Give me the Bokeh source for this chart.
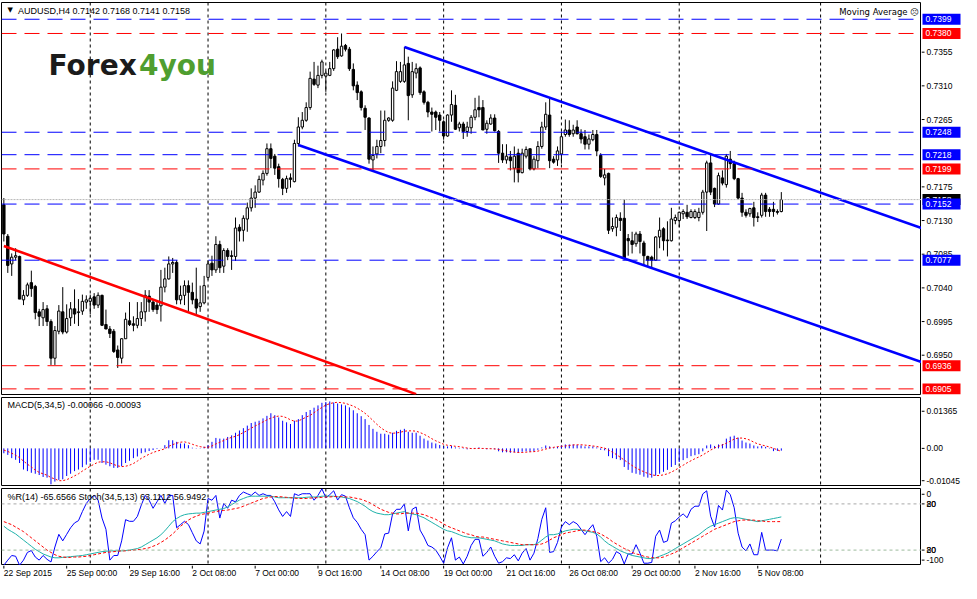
from bokeh.plotting import figure
from bokeh.models import Range1d, Span, Label, ColumnDataSource
from bokeh.layouts import column, row
from bokeh.core.properties import value
from bokeh.embed import file_html
from bokeh.resources import INLINE

# ---------------- data ----------------
open_ = [0.7151,0.7109,0.7072,0.7081,0.7082,0.7024,0.7030,0.7047,0.7042,0.7008,
         0.7000,0.7012,0.6995,0.6946,0.6982,0.7008,0.6981,0.7000,0.7012,0.7007,
         0.7009,0.7021,0.7022,0.7028,0.7017,0.7030,0.6991,0.6985,0.6982,0.6957,
         0.6946,0.6972,0.6996,0.6992,0.6990,0.6999,0.7008,0.7029,0.7021,0.7017,
         0.7016,0.7041,0.7052,0.7072,0.7074,0.7024,0.7030,0.7043,0.7034,0.7025,
         0.7015,0.7020,0.7054,0.7073,0.7064,0.7098,0.7069,0.7090,0.7083,0.7082,
         0.7121,0.7117,0.7132,0.7147,0.7160,0.7168,0.7184,0.7193,0.7226,0.7216,
         0.7202,0.7185,0.7173,0.7187,0.7182,0.7233,0.7255,0.7264,0.7281,0.7319,
         0.7311,0.7324,0.7323,0.7324,0.7333,0.7359,0.7350,0.7364,0.7359,0.7332,
         0.7311,0.7302,0.7280,0.7267,0.7211,0.7219,0.7229,0.7237,0.7264,0.7264,
         0.7304,0.7316,0.7316,0.7340,0.7298,0.7327,0.7334,0.7302,0.7288,0.7275,
         0.7275,0.7271,0.7262,0.7243,0.7271,0.7284,0.7254,0.7259,0.7249,0.7254,
         0.7268,0.7281,0.7281,0.7252,0.7259,0.7267,0.7249,0.7220,0.7211,0.7215,
         0.7200,0.7220,0.7194,0.7216,0.7226,0.7199,0.7210,0.7229,0.7255,0.7271,
         0.7212,0.7211,0.7219,0.7245,0.7251,0.7246,0.7255,0.7246,0.7242,0.7232,
         0.7238,0.7245,0.7217,0.7187,0.7193,0.7119,0.7121,0.7133,0.7133,0.7106,
         0.7103,0.7099,0.7112,0.7100,0.7082,0.7081,0.7077,0.7108,0.7119,0.7104,
         0.7103,0.7130,0.7130,0.7139,0.7141,0.7134,0.7134,0.7134,0.7141,0.7168,
         0.7207,0.7173,0.7152,0.7187,0.7178,0.7212,0.7206,0.7186,0.7160,0.7141,
         0.7139,0.7147,0.7135,0.7137,0.7164,0.7145,0.7145,0.7142,0.7142]
high_ = [0.7160,0.7112,0.7086,0.7093,0.7083,0.7037,0.7047,0.7063,0.7044,0.7012,
         0.7021,0.7017,0.6998,0.6989,0.7017,0.7041,0.7018,0.7021,0.7038,0.7025,
         0.7031,0.7030,0.7031,0.7033,0.7034,0.7031,0.7011,0.6989,0.6985,0.6963,
         0.6973,0.7007,0.7021,0.7002,0.7021,0.7021,0.7037,0.7037,0.7025,0.7021,
         0.7064,0.7067,0.7082,0.7080,0.7077,0.7043,0.7050,0.7050,0.7047,0.7067,
         0.7043,0.7056,0.7077,0.7083,0.7109,0.7103,0.7093,0.7093,0.7090,0.7134,
         0.7125,0.7137,0.7154,0.7173,0.7177,0.7190,0.7197,0.7233,0.7233,0.7219,
         0.7206,0.7187,0.7190,0.7193,0.7238,0.7268,0.7275,0.7288,0.7329,0.7342,
         0.7337,0.7345,0.7330,0.7342,0.7359,0.7375,0.7380,0.7366,0.7362,0.7340,
         0.7316,0.7304,0.7284,0.7268,0.7229,0.7238,0.7277,0.7277,0.7268,0.7316,
         0.7343,0.7342,0.7362,0.7349,0.7342,0.7340,0.7336,0.7304,0.7290,0.7281,
         0.7277,0.7275,0.7264,0.7272,0.7304,0.7298,0.7262,0.7262,0.7262,0.7271,
         0.7294,0.7297,0.7291,0.7264,0.7272,0.7272,0.7251,0.7232,0.7232,0.7223,
         0.7229,0.7226,0.7226,0.7229,0.7226,0.7216,0.7236,0.7262,0.7288,0.7294,
         0.7216,0.7229,0.7249,0.7265,0.7264,0.7258,0.7264,0.7252,0.7251,0.7245,
         0.7251,0.7251,0.7220,0.7199,0.7194,0.7134,0.7138,0.7141,0.7158,0.7112,
         0.7115,0.7115,0.7116,0.7103,0.7083,0.7083,0.7109,0.7134,0.7121,0.7129,
         0.7147,0.7138,0.7142,0.7145,0.7151,0.7145,0.7145,0.7147,0.7171,0.7210,
         0.7220,0.7174,0.7194,0.7197,0.7219,0.7223,0.7210,0.7187,0.7167,0.7145,
         0.7147,0.7155,0.7141,0.7167,0.7167,0.7148,0.7155,0.7145,0.7168]
low_ = [0.7102,0.7060,0.7056,0.7077,0.7025,0.7017,0.7028,0.7028,0.6998,0.6989,
        0.6989,0.6989,0.6937,0.6937,0.6978,0.6978,0.6979,0.6989,0.6992,0.6989,
        0.7004,0.7012,0.7005,0.7012,0.7013,0.6989,0.6985,0.6973,0.6953,0.6933,
        0.6939,0.6972,0.6989,0.6982,0.6986,0.6989,0.6995,0.7008,0.7008,0.7005,
        0.6995,0.7034,0.7051,0.7060,0.7018,0.7018,0.7017,0.7008,0.7018,0.7005,
        0.7008,0.7018,0.7051,0.7056,0.7060,0.7060,0.7060,0.7077,0.7064,0.7076,
        0.7102,0.7102,0.7115,0.7142,0.7147,0.7167,0.7177,0.7190,0.7200,0.7191,
        0.7174,0.7164,0.7167,0.7174,0.7181,0.7229,0.7252,0.7262,0.7278,0.7310,
        0.7307,0.7320,0.7302,0.7323,0.7330,0.7346,0.7349,0.7356,0.7330,0.7304,
        0.7291,0.7277,0.7251,0.7206,0.7197,0.7213,0.7220,0.7229,0.7262,0.7262,
        0.7303,0.7314,0.7314,0.7264,0.7294,0.7320,0.7298,0.7285,0.7268,0.7249,
        0.7251,0.7249,0.7238,0.7242,0.7262,0.7251,0.7249,0.7239,0.7242,0.7246,
        0.7264,0.7268,0.7251,0.7246,0.7258,0.7249,0.7207,0.7207,0.7206,0.7197,
        0.7181,0.7181,0.7193,0.7213,0.7197,0.7197,0.7200,0.7226,0.7251,0.7200,
        0.7206,0.7203,0.7206,0.7242,0.7242,0.7242,0.7245,0.7233,0.7225,0.7225,
        0.7236,0.7216,0.7187,0.7177,0.7112,0.7115,0.7109,0.7116,0.7077,0.7083,
        0.7086,0.7095,0.7086,0.7070,0.7069,0.7067,0.7076,0.7093,0.7090,0.7082,
        0.7102,0.7125,0.7121,0.7132,0.7132,0.7133,0.7132,0.7129,0.7138,0.7116,
        0.7164,0.7148,0.7151,0.7177,0.7174,0.7199,0.7184,0.7158,0.7135,0.7134,
        0.7135,0.7122,0.7128,0.7134,0.7135,0.7135,0.7135,0.7138,0.7141]
close_ = [0.7112,0.7070,0.7081,0.7083,0.7025,0.7030,0.7044,0.7039,0.7007,0.7002,
          0.7011,0.6995,0.6946,0.6983,0.7009,0.6981,0.6999,0.7012,0.7005,0.7008,
          0.7022,0.7024,0.7026,0.7017,0.7030,0.6990,0.6985,0.6979,0.6955,0.6947,
          0.6972,0.6998,0.6991,0.6990,0.6999,0.7008,0.7030,0.7021,0.7011,0.7011,
          0.7041,0.7052,0.7072,0.7074,0.7024,0.7030,0.7043,0.7034,0.7024,0.7013,
          0.7020,0.7043,0.7072,0.7064,0.7098,0.7067,0.7090,0.7082,0.7082,0.7120,
          0.7116,0.7133,0.7147,0.7160,0.7168,0.7185,0.7193,0.7226,0.7213,0.7200,
          0.7186,0.7173,0.7186,0.7185,0.7233,0.7255,0.7264,0.7281,0.7320,0.7312,
          0.7324,0.7342,0.7327,0.7333,0.7358,0.7349,0.7363,0.7359,0.7333,0.7310,
          0.7301,0.7281,0.7268,0.7212,0.7217,0.7229,0.7237,0.7264,0.7267,0.7307,
          0.7329,0.7329,0.7338,0.7297,0.7329,0.7333,0.7301,0.7288,0.7275,0.7272,
          0.7268,0.7264,0.7243,0.7271,0.7285,0.7252,0.7259,0.7249,0.7255,0.7268,
          0.7278,0.7278,0.7251,0.7260,0.7267,0.7250,0.7220,0.7211,0.7216,0.7210,
          0.7216,0.7194,0.7220,0.7225,0.7199,0.7212,0.7229,0.7255,0.7272,0.7210,
          0.7208,0.7223,0.7242,0.7251,0.7245,0.7251,0.7246,0.7239,0.7232,0.7239,
          0.7245,0.7223,0.7189,0.7191,0.7117,0.7122,0.7134,0.7130,0.7080,0.7103,
          0.7098,0.7112,0.7102,0.7083,0.7077,0.7077,0.7108,0.7117,0.7103,0.7103,
          0.7132,0.7134,0.7141,0.7142,0.7135,0.7142,0.7142,0.7141,0.7168,0.7207,
          0.7168,0.7152,0.7190,0.7180,0.7216,0.7206,0.7186,0.7160,0.7141,0.7137,
          0.7146,0.7134,0.7134,0.7164,0.7142,0.7142,0.7142,0.7141,0.7158]

# MACD(5,34,5) in units of 0.0001
macd_main = [-14.2,-19.0,-28.4,-33.2,-42.6,-61.6,-66.2,-71.0,-73.8,-77.5,
             -83.2,-85.2,-104.5,-96.6,-91.7,-90.0,-80.4,-73.8,-66.2,-61.6,
             -54.8,-47.4,-39.8,-33.2,-33.2,-42.6,-47.4,-52.0,-56.8,-56.8,
             -52.0,-42.6,-36.1,-28.4,-23.6,-14.2,-11.4,-7.7,-4.8,-2.0,
             -0.6,9.4,23.6,23.6,19.0,14.2,14.2,9.4,2.0,0.9,
             -0.9,4.8,9.4,19.0,30.4,28.4,28.4,33.2,37.8,45.4,
             52.0,58.8,66.2,73.8,77.5,80.4,87.2,94.6,102.2,96.6,
             90.0,80.4,75.8,71.0,80.4,85.2,96.6,105.9,111.6,118.4,
             125.0,132.6,134.9,136.5,133.5,130.6,127.8,125.0,119.3,110.8,
             102.2,93.7,85.2,68.2,56.8,48.3,42.6,42.6,39.8,45.4,
             51.1,54.0,56.8,48.3,45.4,45.4,36.9,28.4,22.7,17.0,
             14.2,9.9,5.7,5.7,7.1,2.8,1.4,-1.4,-2.8,-1.4,
             1.4,2.8,-1.4,-2.8,-1.4,-2.8,-8.5,-11.4,-11.4,-12.8,
             -11.4,-12.8,-9.9,-8.5,-9.9,-8.5,-4.3,2.8,8.5,5.7,
             2.8,4.3,8.5,11.4,11.4,11.4,9.9,8.5,5.7,5.7,
             5.7,2.8,-4.3,-5.7,-22.7,-28.4,-31.2,-34.1,-54.0,-62.5,
             -71.0,-73.8,-76.7,-82.4,-85.2,-85.2,-79.5,-73.8,-68.2,-62.5,
             -54.0,-48.3,-39.8,-34.1,-28.4,-22.7,-19.9,-17.0,-8.5,8.5,
             11.4,7.1,11.4,12.8,28.4,34.1,36.9,31.2,22.7,17.0,
             14.2,8.5,5.7,7.1,4.3,1.4,-8.0,-7.4,-6.6]
macd_signal = [-5,-9,-14,-20,-27,-37,-46,-54,-63,-70,
               -74,-78,-85,-89,-94,-94,-91,-86,-80,-74,
               -66,-59,-52,-46,-40,-39,-39,-42,-47,-51,
               -53,-52,-49,-44,-37,-29,-23,-17,-12,-8,
               -5,-1,6,11,15,18,19,16,12,8,
               5,3,3,7,13,18,23,28,32,35,
               40,46,52,59,65,71,77,83,88,92,
               94,93,89,83,79,80,85,91,96,104,
               112,119,126,130,133,134,133,131,127,123,
               117,110,102,92,81,70,60,52,46,44,
               45,47,50,51,51,50,46,41,35,28,
               22,17,12,9,8,6,5,3,1,-0.5,
               -0.5,-0.3,-0.2,-0.5,-1,-1.5,-3,-5,-7,-9,
               -11,-12,-12,-11,-10,-9.5,-8,-5,-2,1,
               3,5,6,7,8.5,10,10.5,10.5,9.5,8.5,
               7,5.5,3,1,-5,-11,-18,-26,-34,-42,
               -50,-57,-63,-68,-73,-77,-79,-79,-77,-74,
               -69,-63,-56,-49,-42,-36,-30,-25,-19,-12,
               -5,1,6,10,15,21,27,30,30,28,
               24,18,13,10,7,4,0,-4,-9.3]

# Williams %R(14)
wpr = [-99.6,-93,-87,-88,-99.6,-93,-83,-80.6,-89,-93,
       -87,-92,-95.4,-76,-59.5,-68,-59.5,-51,-44.7,-41.8,
       -30,-19.4,-13,-9,-15,-38.4,-53,-93,-87,-87,
       -68,-40.5,-42.6,-42.6,-36.3,-21.5,-9,-15.2,-25.7,-17.3,
       -9,-19.4,-9,-9,-51,-46.8,-42.6,-46.8,-57.4,-68,
       -72,-55.3,-13,-15.2,-9,-38.4,-19.4,-25.7,-15.2,-17.3,
       -9,-4.6,-6.8,-9,-4.6,-9,-6.8,-9,-9,-17.3,
       -27.8,-36.3,-30,-36.3,-6.8,-9,-6.8,-6.8,-6.8,-15.2,
       -9,-0.4,-12,-8,-3,-15,-8,-10,-25,-38,
       -44,-53,-60,-93,-88,-82,-77,-59,-58,-33,
       -27,-27,-20,-55,-27,-24,-54,-63,-74,-76,
       -80,-88,-97,-77,-64,-93,-89,-98,-88,-74,
       -66,-66,-88,-83,-76,-88,-97,-95,-90,-91,
       -86,-94,-84,-78,-93,-84,-65,-40,-25,-83,
       -82,-70,-50,-43,-47,-43,-46,-53,-60,-53,
       -47,-62,-95,-90,-97,-92,-82,-85,-98,-85,
       -85,-73,-84,-97,-97,-96,-62,-54,-70,-68,
       -45,-42,-37,-33,-38,-27,-23,-23,-7,-3,
       -36,-50,-22,-28,-2,-8,-25,-58,-76,-81,
       -72,-86,-86,-57,-80,-80,-80,-81,-65.66]

# Stochastic(34,5,13)
stoch_main = [51,47,44,41,37,33,29,25,21,18,
              15,13,11,10,10,10.5,11,11.5,12,12.5,
              13,14,15,16,17,18,18.5,19,19,19,
              19,19.5,20,21,22,24,27,30,33,36,
              40,45,51,57,61,64,66,67,67.5,68,
              68,69,70,71,72,73,74,76,79,82,
              85,87,89,90,90,90,90,90,90,89,
              88,88,88,88,88,88,88,88.5,89,89,
              89,90,90,90,90,89,89,88,87,85,
              83,80,77,73,70,68,67,66,66,67,
              68,69,70,68,67,66,64,62,59,56,
              53,50,47,45,44,42,40,38,37,36,
              36,36,35,34,33,32,30,28,27,26,
              26,26,26,27,27,27,29,33,37,40,
              40,41,43,45,46,47,47,46,45,44,
              43,41,37,32,28,25,22,19,17,15,
              13,12,11,10,9,9,10,12,14,16,
              19,22,25,28,31,34,37,40,44,48,
              51,53,55,57,59,61,62,62,61,60,
              59,58,57,58,59,60,61,62,63.11]
stoch_signal = [57,55,53,50,47,44,40,36,32,28,
                24,20,17,14,12,11,10.5,10.5,11,11,
                11.5,12,13,14,15,16,17,17.5,18,18.5,
                19,19,19.5,20,20.5,21,22,23,25,27,
                30,33,37,41,46,51,55,59,62,64,
                66,67,68,69,70,71,71.5,72,73,74,
                75,77,79,81,83,85,87,88,89,89.5,
                89.5,89,88.5,88,87.5,87,87,87,87.5,88,
                88,88.5,89,89,89.5,89.5,89.5,89,89,88,
                87,86,84,82,79,76,73,71,69,68,
                67,67,68,68,68,68,67,66,64,62,
                60,57,54,51,49,47,45,43,41,40,
                38,37,37,36,35,34,33,32,31,30,
                29,28,27,27,27,27,27,28,30,33,
                36,38,40,42,43,44,45,46,46,45,
                44,43,41,38,35,31,28,25,22,20,
                17,15,14,12,11,10,10,10,11,13,
                15,17,20,23,26,29,32,35,38,41,
                44,47,49,51,53,55,57,58,59,59,
                59,59,58,58,57,57,57,57,56.95]

date_idx = [0, 16, 32, 48, 64, 80, 96, 112, 128, 144, 160, 176, 192]
date_labels = ["22 Sep 2015", "25 Sep 00:00", "29 Sep 16:00", "2 Oct 08:00", "7 Oct 00:00",
               "9 Oct 16:00", "14 Oct 08:00", "19 Oct 00:00", "21 Oct 16:00", "26 Oct 08:00",
               "29 Oct 00:00", "2 Nov 16:00", "5 Nov 08:00"]
grid_idx = [22, 52, 82, 112, 142, 172, 208]

price_ticks = [0.7355, 0.7310, 0.7265, 0.7175, 0.7130, 0.7085, 0.7040, 0.6995, 0.6950]
blue_levels = [0.7399, 0.7248, 0.7218, 0.7152, 0.7077]
red_levels = [0.7380, 0.7199, 0.6936, 0.6905]
bid_price = 0.7158

macd_ticks = [0.0108, 0.0, -0.0094]
macd_tick_labels = ["0.01365", "0.00", "-0.01045"]
osc_ticks = [-7.5, -20, -80, -93]
osc_tick_labels = ["0", "80", "20", "-100"]
osc_overlap_ticks = [-20, -80]
osc_overlap_labels = ["20", "80"]

red_trend_x = [0, 105]
red_trend_y = [0.7096, 0.6898]
upper_trend_x = [102, 233.7]
upper_trend_y = [0.7362, 0.7120]
lower_trend_x = [75, 233.7]
lower_trend_y = [0.7231, 0.6941]

# ---------------- drawing ----------------
FW = 920
AW = 40
FONT = "Liberation Sans"
BLUE = "#0000ff"
RED = "#ff0000"
n = len(close_)
idx = list(range(n))
xr = Range1d(-0.6, 233.7)


def make_fig(fh, yr, top, bottom):
    p = figure(frame_width=FW, frame_height=fh, x_range=xr, y_range=yr,
               y_axis_location=None, x_axis_location=None,
               output_backend="svg", toolbar_location=None, tools="",
               min_border=0, min_border_left=1, min_border_right=0,
               min_border_top=top, min_border_bottom=bottom)
    p.xgrid.visible = False
    p.ygrid.visible = False
    p.outline_line_color = "black"
    p.outline_line_width = 1
    p.background_fill_color = "white"
    p.border_fill_color = "white"
    for g in grid_idx:
        p.add_layout(Span(location=g, dimension="height", line_color="black",
                          line_dash="3 3", line_width=1, level="underlay"))
    return p


def make_axis_fig(fh, yr, top, bottom):
    a = figure(frame_width=AW, frame_height=fh, x_range=Range1d(0, AW), y_range=yr,
               y_axis_location=None, x_axis_location=None,
               output_backend="svg", toolbar_location=None, tools="",
               min_border=0, min_border_top=top, min_border_bottom=bottom)
    a.xgrid.visible = False
    a.ygrid.visible = False
    a.outline_line_color = None
    a.background_fill_color = "white"
    a.border_fill_color = "white"
    return a


def axis_labels(a, ticks, labels, marks=True):
    if marks:
        a.segment(x0=[0] * len(ticks), y0=ticks, x1=[3] * len(ticks), y1=ticks,
                  line_color="black", line_width=1)
    a.text(x=[5] * len(ticks), y=ticks, text=labels, text_font=value(FONT),
           text_font_size=value("8.5px"), text_color="black",
           text_align="left", text_baseline="middle")


def tags(a, vals, cols):
    a.rect(x=[20] * len(vals), y=vals, width=38, height=11, height_units="screen",
           fill_color=cols, line_color=None)
    a.text(x=[4] * len(vals), y=vals, text=["%.4f" % v for v in vals],
           text_font=value(FONT), text_font_size=value("8.5px"), text_color="white",
           text_align="left", text_baseline="middle")


def txt(p, x, y, text, size="9px", font=FONT, color="black", style="normal", align="left"):
    p.add_layout(Label(x=x, y=y, text=text, text_font=font, text_font_size=size,
                       text_color=color, text_font_style=style, text_align=align,
                       text_baseline="alphabetic"))


# ---- main price panel ----
yr1 = Range1d(0.68975, 0.74214)
p1 = make_fig(392, yr1, 2, 2)
a1 = make_axis_fig(392, yr1, 2, 2)

p1.add_layout(Span(location=bid_price, dimension="width", line_color="#b8b8b8",
                   line_dash="2 1", line_width=1))
for lv in blue_levels:
    p1.add_layout(Span(location=lv, dimension="width", line_color=BLUE, line_dash="15 8", line_width=1))
for lv in red_levels:
    p1.add_layout(Span(location=lv, dimension="width", line_color=RED, line_dash="15 8", line_width=1))

bull = [c >= o for o, c in zip(open_, close_)]
src = ColumnDataSource(dict(
    i=idx, o=open_, h=high_, l=low_, c=close_,
    top=[max(o, c) for o, c in zip(open_, close_)],
    bot=[min(o, c) for o, c in zip(open_, close_)],
    fill=["white" if b else "black" for b in bull]))
p1.segment(x0="i", y0="l", x1="i", y1="h", source=src, line_color="black", line_width=1)
p1.vbar(x="i", width=0.6, top="top", bottom="bot", source=src,
        fill_color="fill", line_color="black", line_width=1)

p1.line(red_trend_x, red_trend_y, line_color=RED, line_width=2.6)
p1.line(upper_trend_x, upper_trend_y, line_color=BLUE, line_width=2.6)
p1.line(lower_trend_x, lower_trend_y, line_color=BLUE, line_width=2.6)

txt(p1, 0.9, 0.7411, "\u25bc", size="7px", font="DejaVu Sans")
txt(p1, 3.6, 0.7410, "AUDUSD,H4  0.7142 0.7168 0.7141 0.7158")
txt(p1, 233.1, 0.7409, "Moving Average \u2639", size="8.5px", font="DejaVu Sans", align="right")
txt(p1, 11.4, 0.7337, "Forex", size="28px", font="DejaVu Sans", color="#1b1b1b", style="bold")
txt(p1, 34.4, 0.7337, "4you", size="28px", font="DejaVu Sans", color="#4f9e2f", style="bold")

axis_labels(a1, price_ticks, ["%.4f" % t for t in price_ticks])
tags(a1, [bid_price], ["black"])
tags(a1, [0.7399, 0.7380, 0.7248, 0.7218, 0.7199, 0.7152, 0.7077, 0.6936, 0.6905],
     [BLUE, RED, BLUE, BLUE, RED, BLUE, BLUE, RED, RED])

# ---- MACD panel ----
yr2 = Range1d(-0.0108, 0.0148)
p2 = make_fig(88, yr2, 1, 2)
a2 = make_axis_fig(88, yr2, 1, 2)
p2.segment(x0=idx, y0=[0] * n, x1=idx, y1=[v / 10000 for v in macd_main],
           line_color=BLUE, line_width=1)
p2.line(idx, [v / 10000 for v in macd_signal], line_color=RED, line_dash="2 2", line_width=1)
txt(p2, 0.9, 0.0125, "MACD(5,34,5) -0.00066 -0.00093")
axis_labels(a2, macd_ticks, macd_tick_labels)

# ---- %R / Stochastic panel ----
yr3 = Range1d(-100, 0)
p3 = make_fig(77, yr3, 1, 0)
a3 = make_axis_fig(77, yr3, 1, 0)
p3.extra_y_ranges = {"st": Range1d(0, 100)}
p3.add_layout(Span(location=-20, dimension="width", line_color="#a8a8a8", line_dash="3 3", line_width=1))
p3.add_layout(Span(location=-80, dimension="width", line_color="#9cba9c", line_dash="3 3", line_width=1))
p3.line(idx, wpr, line_color=BLUE, line_width=1)
p3.line(idx, stoch_main, line_color="#20b2aa", line_width=1, y_range_name="st")
p3.line(idx, stoch_signal, line_color=RED, line_dash="3 2", line_width=1, y_range_name="st")
txt(p3, 0.9, -11.5, "%R(14) -65.6566  Stoch(34,5,13) 63.1112 56.9492")
axis_labels(a3, osc_ticks, osc_tick_labels)
axis_labels(a3, osc_overlap_ticks, osc_overlap_labels, marks=False)

# ---- date axis strip ----
d = figure(frame_width=FW, frame_height=17, x_range=xr, y_range=Range1d(0, 1),
           y_axis_location=None, x_axis_location=None,
           output_backend="svg", toolbar_location=None, tools="",
           min_border=0, min_border_left=1, min_border_right=AW)
d.xgrid.visible = False
d.ygrid.visible = False
d.outline_line_color = None
d.background_fill_color = "white"
d.border_fill_color = "white"
d.segment(x0=date_idx, y0=[1] * len(date_idx), x1=date_idx, y1=[0.82] * len(date_idx),
          line_color="black", line_width=1)
d.text(x=date_idx, y=[0.86] * len(date_idx), text=date_labels, text_font=value(FONT),
       text_font_size=value("8.5px"), text_color="black", text_align="left", text_baseline="top")

layout = column(row(p1, a1, spacing=0), row(p2, a2, spacing=0), row(p3, a3, spacing=0), d, spacing=0)
open("out.html", "w").write(file_html(layout, INLINE))
